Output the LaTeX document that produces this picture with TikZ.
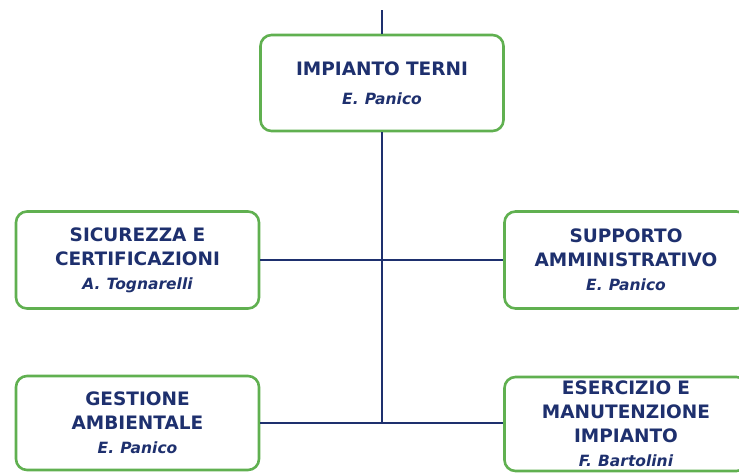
\documentclass[tikz,border=0pt]{standalone}
\usepackage{fontspec}
\setmainfont{DejaVu Sans}
\usetikzlibrary{positioning}
\definecolor{boxgreen}{RGB}{96,176,80}
\definecolor{navy}{RGB}{30,48,110}
\tikzset{every picture/.style={line width=1pt}}

\begin{document}
\begin{tikzpicture}[x=1pt,y=-1pt,
  unit/.style={draw=boxgreen, line width=2.6pt, rounded corners=11pt, fill=white,
    minimum width=243pt, text width=243pt, align=center, inner sep=0pt,
    font=\fontsize{18.5}{24}\selectfont\bfseries, text=navy},
  link/.style={draw=navy, line width=1.8pt}]
\useasboundingbox (0,0) rectangle (739,472);
\clip (0,0) rectangle (739,472);
% links first, boxes on top
\coordinate (top) at (382,10);
\coordinate (bot) at (382,423);
\node (terni) at (382,83) [unit, minimum height=96pt] {IMPIANTO TERNI\\[5pt] {\fontsize{15.5}{24}\selectfont\itshape E. Panico}};
\node (sic) at (137.5,260) [unit, minimum height=97pt] {SICUREZZA E\\ CERTIFICAZIONI\\ {\fontsize{15.5}{26}\selectfont\itshape A. Tognarelli}};
\node (supp) at (626,260) [unit, minimum height=97pt] {SUPPORTO\\ AMMINISTRATIVO\\ {\fontsize{15.5}{26}\selectfont\itshape E. Panico}};
\node (gest) at (137.5,423) [unit, minimum height=94pt] {GESTIONE\\ AMBIENTALE\\ {\fontsize{15.5}{26}\selectfont\itshape E. Panico}};
\node (eserc) at (626,424) [unit, minimum height=94pt] {ESERCIZIO E\\ MANUTENZIONE\\ IMPIANTO\\ {\fontsize{15.5}{27}\selectfont\itshape F. Bartolini}};
\draw[link] (top) -- (terni.north);
\draw[link] (terni.south) -- (bot);
\draw[link] (sic.east) -- (supp.west);
\draw[link] (gest.east) -- (bot) -- (eserc.west |- bot);
\end{tikzpicture}
\end{document}
